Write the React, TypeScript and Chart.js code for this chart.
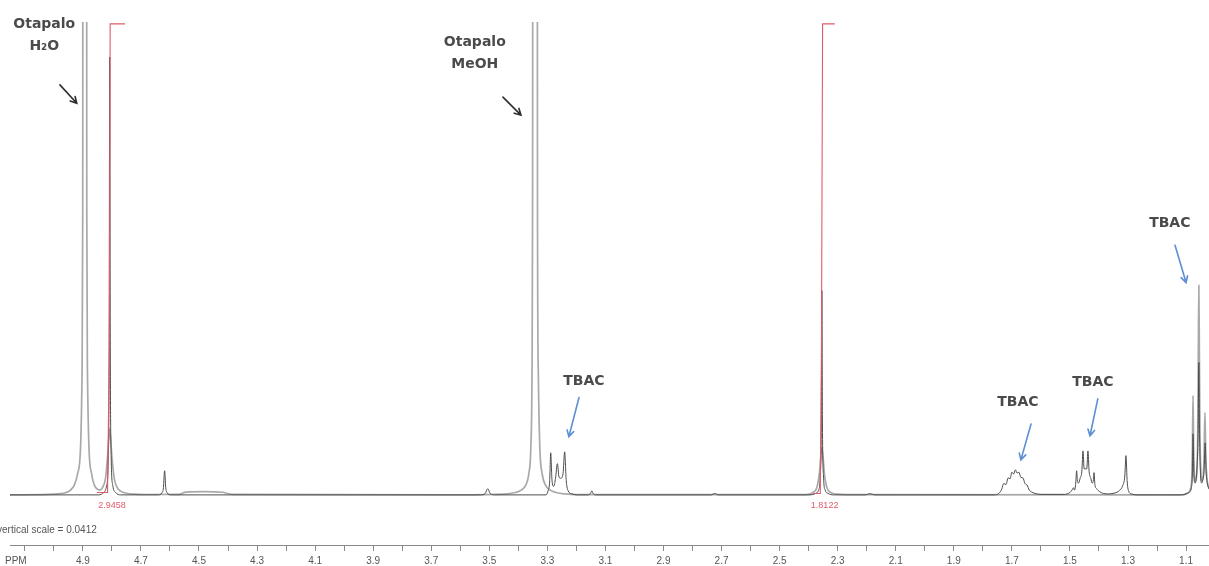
import React, { useEffect, useRef } from "react";
import { Chart, registerables } from "chart.js";

Chart.register(...registerables);

// ---- axis ranges (ppm, relative intensity) ----
const PPM_MIN = 1.021;
const PPM_MAX = 5.151;
const INT_MIN = -10.6;
const INT_MAX = 100;

// ---- light grey trace (broad solvent peaks) ----
const refPpm = [
  5.151, 5.02, 4.98, 4.96, 4.945, 4.93, 4.918, 4.908, 4.903, 4.9005, 4.899, 4.888, 4.8865, 4.884, 4.879, 4.87,
  4.86, 4.85, 4.842, 4.832, 4.822, 4.815, 4.8075, 4.8, 4.792, 4.782, 4.77, 4.75, 4.72, 4.69, 4.57, 4.545, 4.48,
  4.42, 4.385,
  3.6, 3.45, 3.41, 3.39, 3.375, 3.364, 3.357, 3.353, 3.351, 3.349, 3.336, 3.334, 3.331, 3.326, 3.318, 3.306,
  3.29, 3.27, 3.24, 3.2,
  2.41, 2.385, 2.372, 2.364, 2.3545, 2.345, 2.337, 2.324, 2.3, 2.27,
  1.11, 1.095, 1.085, 1.08, 1.078, 1.076, 1.074, 1.071, 1.067, 1.063, 1.06, 1.058, 1.056, 1.054, 1.052, 1.049,
  1.045, 1.041, 1.038, 1.035, 1.032, 1.028, 1.024, 1.021,
];
const refIntensity = [
  0, 0.1, 0.25, 0.45, 0.9, 2, 4.5, 10, 25, 60, 250, 250, 60, 25, 10, 4.5,
  2, 1.2, 1.0, 1.6, 3.5, 8, 14, 8, 3.5, 1.6, 0.8, 0.35, 0.15, 0.08, 0.1, 0.6, 0.7,
  0.55, 0.1,
  0, 0.15, 0.5, 1.0, 2.0, 4.5, 10, 25, 60, 250, 250, 60, 25, 10, 4.5, 2.0,
  1.0, 0.5, 0.2, 0.05,
  0.05, 0.5, 1.5, 4, 10, 4, 1.5, 0.5, 0.15, 0.05,
  0, 0.4, 1.2, 4, 10, 21.0, 10, 4, 3, 5, 12, 28, 44.3, 28, 12, 5,
  3, 4, 8, 17.4, 8, 3.5, 2, 1.6,
];

// ---- dark trace (sample) ----
const samplePpm = [
  5.151, 4.845, 4.828, 4.818, 4.8125, 4.8095, 4.8075, 4.8055, 4.8025, 4.797, 4.787, 4.77,
  4.64, 4.628, 4.6225, 4.6185, 4.6145, 4.609, 4.597,
  3.53, 3.514, 3.5055, 3.497, 3.482,
  3.305, 3.298, 3.292, 3.2885, 3.284, 3.278, 3.272, 3.2655, 3.26, 3.254, 3.246, 3.2405, 3.235, 3.228, 3.215, 3.2,
  3.16, 3.151, 3.147, 3.143, 3.134,
  2.735, 2.7235, 2.712,
  2.395, 2.376, 2.366, 2.36, 2.3565, 2.3545, 2.3525, 2.349, 2.343, 2.333, 2.315,
  2.205, 2.189, 2.173,
  1.76, 1.745, 1.735, 1.728, 1.72, 1.713, 1.706, 1.7, 1.694, 1.688, 1.682, 1.676, 1.669, 1.662, 1.655, 1.648,
  1.64, 1.632, 1.62, 1.6,
  1.52, 1.5, 1.493, 1.488, 1.484, 1.48, 1.477, 1.474, 1.47, 1.465, 1.459, 1.455, 1.451, 1.447, 1.442, 1.438,
  1.434, 1.428, 1.424, 1.42, 1.417, 1.414, 1.408, 1.398, 1.385, 1.365, 1.345, 1.33, 1.318, 1.311, 1.307, 1.303,
  1.298, 1.288, 1.27,
  1.12, 1.1, 1.088, 1.082, 1.078, 1.076, 1.073, 1.069, 1.066, 1.062, 1.058, 1.056, 1.054, 1.05, 1.046, 1.043,
  1.038, 1.034, 1.031, 1.027, 1.021,
];
const sampleIntensity = [
  0, 0, 0.5, 2, 8, 30, 92.6, 30, 8, 2, 0.5, 0,
  0, 0.4, 1.5, 5.1, 1.5, 0.4, 0,
  0, 0.3, 1.3, 0.3, 0,
  0, 0.8, 3, 8.9, 3, 1.8, 3.5, 6.6, 3.8, 3.5, 4.5, 9.1, 3, 0.8, 0.2, 0,
  0, 0.35, 0.85, 0.35, 0,
  0, 0.3, 0,
  0, 0.3, 1, 4, 15, 43.2, 15, 4, 1, 0.3, 0,
  0, 0.25, 0,
  0, 0.3, 1.2, 2.4, 2.2, 3.6, 3.4, 4.8, 4.4, 5.3, 4.6, 4.8, 3.7, 3.6, 2.4, 2.1,
  1.0, 0.6, 0.3, 0.1,
  0.1, 0.5, 1.0, 1.5, 1.0, 2.5, 5.1, 2.8, 2.5, 3.5, 5, 9.3, 5.5, 5.5, 5.5, 9.3,
  5, 3.5, 2.5, 2.8, 4.7, 2.2, 1.3, 0.7, 0.3, 0.2, 0.4, 0.9, 2.0, 4, 8.3, 3,
  0.8, 0.2, 0,
  0, 0.2, 0.6, 1.5, 5, 12.9, 4, 2.5, 3, 6, 15, 28.0, 15, 4, 2.5, 3,
  5, 11, 5, 2.5, 1.2,
];

// ---- integral curves (red) ----
const integralAPpm = [4.852, 4.815, 4.809, 4.806, 4.755];
const integralAValue = [0.5, 0.5, 30, 99.6, 99.6];
const integralBPpm = [2.385, 2.36, 2.356, 2.352, 2.31];
const integralBValue = [0.3, 0.3, 30, 99.6, 99.6];
const integralLabels = ["2.9458", "1.8122"];
const integralLabelPpm = [4.8, 2.345];
const integralLabelLevel = -2.3;

// ---- annotations ----
const annotationLines = [["Otapalo", "H\u2082O"], ["Otapalo", "MeOH"], ["TBAC"], ["TBAC"], ["TBAC"], ["TBAC"]];
const annotationPpm = [5.033, 3.55, 3.174, 1.679, 1.421, 1.156];
const annotationLevel = [99.4, 95.6, 23.9, 19.5, 23.7, 57.4];
const arrowFromPpm = [4.979, 3.453, 3.191, 1.634, 1.404, 1.138];
const arrowFromLevel = [86.7, 84.1, 20.6, 15.0, 20.3, 52.8];
const arrowToPpm = [4.921, 3.391, 3.226, 1.669, 1.431, 1.1];
const arrowToLevel = [82.8, 80.3, 12.3, 7.4, 12.5, 44.9];
const arrowKinds = ["dark", "dark", "blue", "blue", "blue", "blue"];

const verticalScaleText = "vertical scale = 0.0412";
const axisUnit = "PPM";

function toPoints(xs: number[], ys: number[]) {
  return xs.map((x, i) => ({ x, y: ys[i] }));
}

function drawArrow(ctx: CanvasRenderingContext2D, x1: number, y1: number, x2: number, y2: number, color: string) {
  const ang = Math.atan2(y2 - y1, x2 - x1);
  const head = 7;
  ctx.strokeStyle = color;
  ctx.lineWidth = 1.6;
  ctx.lineCap = "round";
  ctx.beginPath();
  ctx.moveTo(x1, y1);
  ctx.lineTo(x2, y2);
  ctx.moveTo(x2 - head * Math.cos(ang - 0.5), y2 - head * Math.sin(ang - 0.5));
  ctx.lineTo(x2, y2);
  ctx.lineTo(x2 - head * Math.cos(ang + 0.5), y2 - head * Math.sin(ang + 0.5));
  ctx.stroke();
}

const overlayPlugin = {
  id: "nmrOverlay",
  afterDatasetsDraw(chart: any) {
    const { ctx, chartArea, scales } = chart;
    const xs = scales.x;
    const ys = scales.y;
    ctx.save();

    // integral values
    ctx.fillStyle = "#e25a6a";
    ctx.font = '9px "Liberation Sans", Arial, sans-serif';
    ctx.textAlign = "center";
    ctx.textBaseline = "middle";
    integralLabels.forEach((t, i) => {
      ctx.fillText(t, xs.getPixelForValue(integralLabelPpm[i]), ys.getPixelForValue(integralLabelLevel));
    });

    // caption and unit
    ctx.fillStyle = "#555";
    ctx.font = '10px "Liberation Sans", Arial, sans-serif';
    ctx.textAlign = "left";
    ctx.fillText(verticalScaleText, chartArea.left - 13, chartArea.bottom - 15);
    ctx.fillText(axisUnit, chartArea.left - 5, chartArea.bottom + 16);

    // annotation texts
    ctx.fillStyle = "#4a4a4a";
    ctx.font = 'bold 14px "DejaVu Sans", sans-serif';
    ctx.textAlign = "center";
    annotationLines.forEach((lines, i) => {
      const px = xs.getPixelForValue(annotationPpm[i]);
      const py = ys.getPixelForValue(annotationLevel[i]);
      lines.forEach((line, j) => ctx.fillText(line, px, py + j * 22));
    });

    // arrows
    arrowKinds.forEach((kind, i) => {
      drawArrow(
        ctx,
        xs.getPixelForValue(arrowFromPpm[i]),
        ys.getPixelForValue(arrowFromLevel[i]),
        xs.getPixelForValue(arrowToPpm[i]),
        ys.getPixelForValue(arrowToLevel[i]),
        kind === "blue" ? "#5d8fd2" : "#2e2e2e"
      );
    });
    ctx.restore();
  },
};

export default function App() {
  const canvasRef = useRef<HTMLCanvasElement | null>(null);

  useEffect(() => {
    if (!canvasRef.current) return;
    const chart = new Chart(canvasRef.current, {
      type: "line",
      data: {
        datasets: [
          {
            label: "integral A",
            data: toPoints(integralAPpm, integralAValue),
            borderColor: "#e05a68",
            borderWidth: 1.1,
            pointRadius: 0,
            tension: 0,
            order: 0,
          },
          {
            label: "integral B",
            data: toPoints(integralBPpm, integralBValue),
            borderColor: "#e05a68",
            borderWidth: 1.1,
            pointRadius: 0,
            tension: 0,
            order: 0,
          },
          {
            label: "sample",
            data: toPoints(samplePpm, sampleIntensity),
            borderColor: "#4c4c4c",
            borderWidth: 1,
            pointRadius: 0,
            cubicInterpolationMode: "monotone",
            order: 1,
          },
          {
            label: "reference",
            data: toPoints(refPpm, refIntensity),
            borderColor: "#a9a9ad",
            borderWidth: 1.7,
            pointRadius: 0,
            cubicInterpolationMode: "monotone",
            order: 2,
          },
        ],
      },
      options: {
        responsive: false,
        animation: false,
        devicePixelRatio: 1,
        layout: { padding: { left: 10, right: 0, top: 22, bottom: 0 } },
        plugins: { legend: { display: false }, tooltip: { enabled: false } },
        scales: {
          x: {
            type: "linear",
            reverse: true,
            min: PPM_MIN,
            max: PPM_MAX,
            afterFit: (scale: any) => {
              scale.height = 21;
            },
            border: { display: true, color: "#8a8a8a", width: 1 },
            grid: { drawOnChartArea: false, drawTicks: true, tickLength: 6, color: "#8a8a8a" },
            ticks: {
              stepSize: 0.1,
              includeBounds: false,
              autoSkip: false,
              maxRotation: 0,
              padding: 4,
              color: "#555",
              font: { family: '"Liberation Sans", Arial, sans-serif', size: 10 },
              callback: (value: any) => {
                const v = Number(value);
                const t = Math.round(v * 10);
                return t % 2 === 1 && v < 4.95 ? v.toFixed(1) : "";
              },
            },
          },
          y: { display: false, min: INT_MIN, max: INT_MAX },
        },
      },
      plugins: [overlayPlugin],
    });
    return () => chart.destroy();
  }, []);

  return (
    <div style={{ position: "fixed", left: 0, top: 0, width: 1209, height: 566, background: "#fff" }}>
      <canvas ref={canvasRef} width={1209} height={566} />
    </div>
  );
}
